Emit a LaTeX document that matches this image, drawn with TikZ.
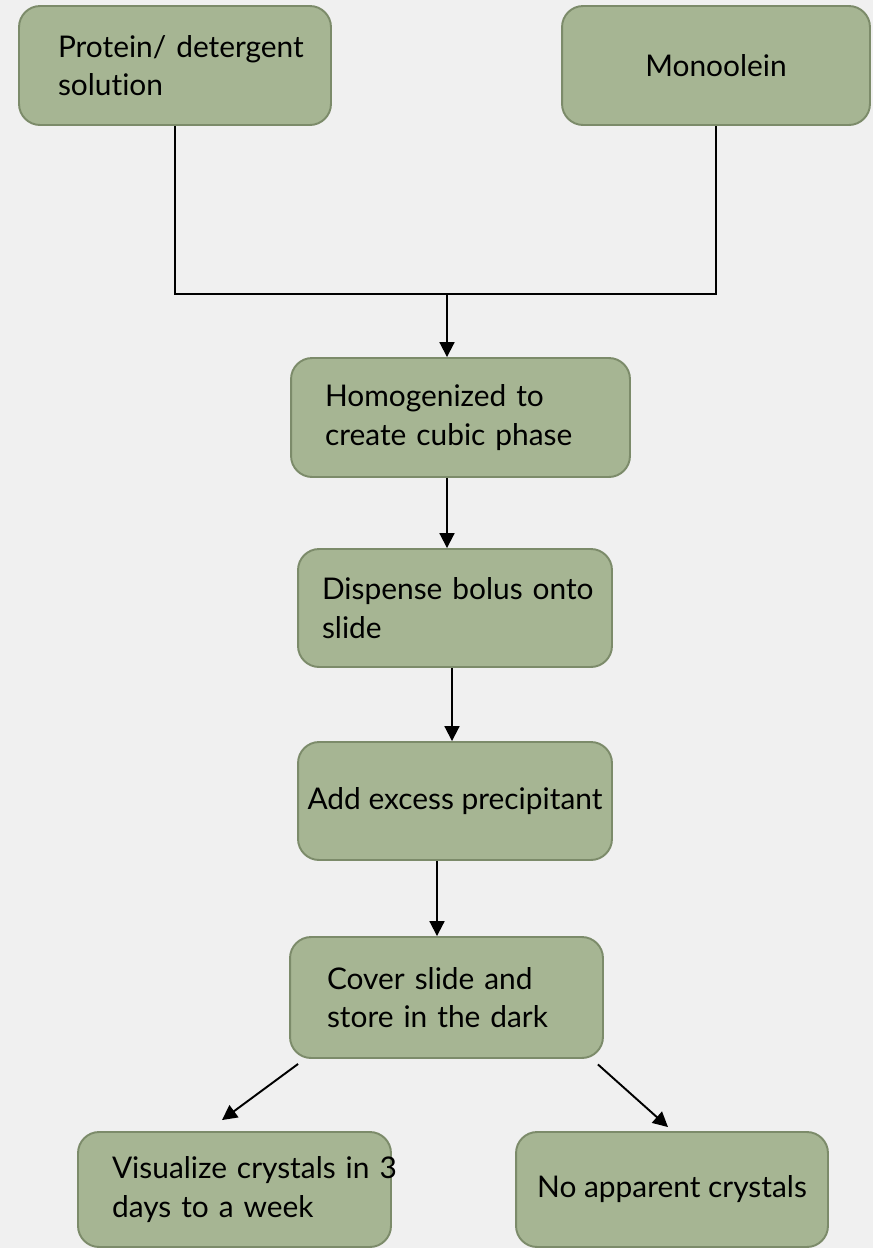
\documentclass[tikz,border=0pt]{standalone}
\usepackage{fontspec}
\setmainfont[Ligatures=NoCommon]{Lato}
\usepackage{tikz}
\usetikzlibrary{positioning, arrows.meta, calc}
\definecolor{boxfill}{HTML}{A6B593}
\definecolor{boxedge}{HTML}{7C8B6A}
\definecolor{bgcol}{HTML}{F0F0F0}

\begin{document}
\begin{tikzpicture}[x=0.02cm, y=-0.02cm,
    stage/.style={draw=boxedge, fill=boxfill, line width=1.1pt, rounded corners=12pt,
      align=left, inner ysep=0pt, font=\fontsize{17}{22}\selectfont},
    flow/.style={black, line width=1.1pt, -{Triangle[length=8.5pt,width=8.5pt]}}]
    \fill[bgcol] (0,0) rectangle (873,1248);
    \useasboundingbox (0,0) rectangle (873,1248);

    % starting materials
    \node[stage, minimum width=6.24cm, minimum height=2.38cm, inner xsep=0.78cm, text width=4.68cm] (protein) at (175,65.5) {\mbox{Protein/ detergent}\\\mbox{solution}};
    \node[stage, align=center, minimum width=6.16cm, minimum height=2.38cm] (mono) at (716,65.5) {Monoolein};

    % steps
    \node[stage, minimum width=6.78cm, minimum height=2.38cm, inner xsep=0.68cm, text width=5.42cm] (homog) at (460.5,417.5) {\mbox{Homogenized to}\\\mbox{create cubic phase}};
    \node[stage, minimum width=6.28cm, minimum height=2.36cm, inner xsep=0.48cm, text width=5.32cm] (disp) at (455,608) {\mbox{Dispense bolus onto}\\\mbox{slide}};
    \node[stage, align=center, minimum width=6.28cm, minimum height=2.36cm] (add) at (455,801) {Add excess precipitant};
    \node[stage, minimum width=6.26cm, minimum height=2.42cm, inner xsep=0.74cm, text width=4.78cm] (cover) at (446.5,997.5) {\mbox{Cover slide and}\\\mbox{store in the dark}};

    % outcomes
    \node[stage, minimum width=6.26cm, minimum height=2.3cm, inner xsep=0.68cm, text width=4.9cm] (vis) at (234.5,1189.5) {\mbox{Visualize crystals in 3}\\\mbox{days to a week}};
    \node[stage, align=center, minimum width=6.24cm, minimum height=2.3cm] (none) at (672,1189.5) {No apparent crystals};

    % mixing
    \coordinate (join) at (447,294);
    \draw[black, line width=1.1pt] (protein.south) -- (protein.south |- join) -- (mono.south |- join) -- (mono.south);
    \draw[flow] (join) -- (join |- homog.north);
    \draw[flow] ([xshift=-0.27cm]homog.south) -- ([xshift=-0.27cm]homog.south |- disp.north);
    \draw[flow] ([xshift=-0.06cm]disp.south) -- ([xshift=-0.06cm]disp.south |- add.north);
    \draw[flow] ([xshift=-0.36cm]add.south) -- ([xshift=-0.36cm]add.south |- cover.north);
    \draw[flow] ([shift={(9,5)}]cover.south west) -- ([shift={(-12.5,-11)}]vis.north);
    \draw[flow] ([shift={(-6,5.5)}]cover.south east) -- ([shift={(-4,-4)}]none.north);
\end{tikzpicture}
\end{document}
